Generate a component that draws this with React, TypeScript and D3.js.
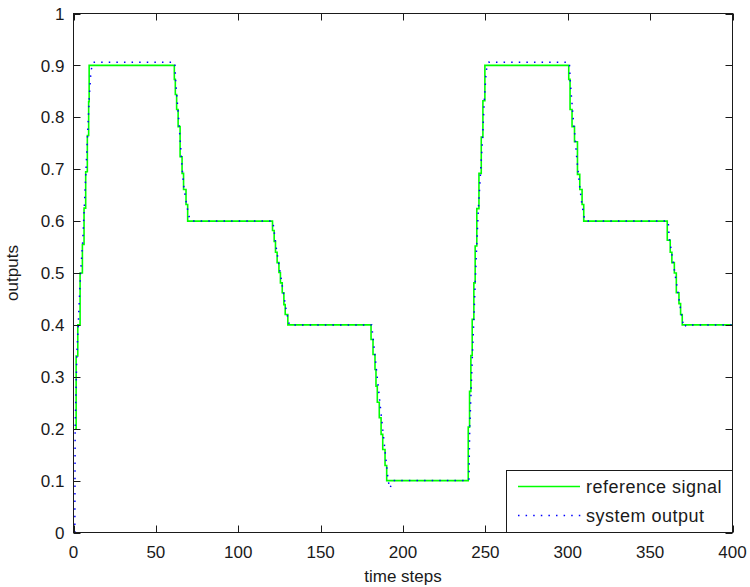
import React from "react";
import * as d3 from "d3";

const W = 750;
const H = 587;

// reference signal (step-after breakpoints: time, value)
const refT = [1, 1.6, 2.6, 4.0, 5.4, 6.4, 7.4, 8.4, 9.2, 9.5,
  61.2, 61.8, 62.6, 63.5, 64.7, 65.9, 66.8, 68.3, 69.3,
  120.8, 121.8, 122.6, 123.6, 124.7, 125.6, 126.7, 127.7, 128.5, 130.1,
  180.6, 181.8, 183.0, 183.6, 184.4, 185.6, 186.7, 187.7, 189.1, 190.1,
  239.6, 240.4, 241.2, 242.0, 243.0, 243.8, 244.8, 246.1, 247.5, 248.5, 249.7,
  300.6, 301.4, 302.6, 304.1, 305.9, 307.3, 308.7, 309.7,
  360.4, 362.2, 363.2, 364.7, 365.9, 367.5, 368.5, 369.5,
  400];
const refV = [0.2, 0.34, 0.4, 0.5, 0.555, 0.625, 0.695, 0.765, 0.83, 0.9,
  0.873, 0.844, 0.815, 0.782, 0.724, 0.692, 0.661, 0.632, 0.6,
  0.582, 0.561, 0.54, 0.52, 0.501, 0.481, 0.462, 0.439, 0.42, 0.4,
  0.372, 0.343, 0.314, 0.282, 0.251, 0.221, 0.189, 0.16, 0.129, 0.1,
  0.203, 0.272, 0.341, 0.411, 0.481, 0.552, 0.624, 0.692, 0.762, 0.832, 0.9,
  0.873, 0.815, 0.782, 0.753, 0.69, 0.661, 0.632, 0.6,
  0.563, 0.54, 0.52, 0.5, 0.462, 0.441, 0.42, 0.4,
  0.4];

// system output (time, value)
const outT = [0.8, 1.0, 2.0, 3.0, 4.3, 5.6, 6.6, 7.6, 8.6, 9.6, 10.6, 12,
  61.5, 62, 63, 64, 65, 66, 67, 68.5, 70, 71.5,
  121, 122, 123, 124, 125, 126, 127, 128, 129, 130, 131,
  181, 182, 183, 184, 185, 186, 187, 188, 189, 190, 191, 192, 194,
  240, 240.5, 241.3, 242.1, 243, 243.8, 244.7, 245.7, 247, 248.3, 249.3, 250.5, 252,
  301, 301.5, 302.5, 303.5, 304.5, 305.5, 306.5, 307.5, 308.5, 309.5, 310.5,
  361, 361.5, 362.5, 363.5, 364.5, 365.5, 366.5, 367.5, 368.5, 369.5, 370.5, 372, 400];
const outV = [0, 0.2, 0.34, 0.41, 0.5, 0.56, 0.63, 0.7, 0.77, 0.84, 0.89, 0.906,
  0.906, 0.87, 0.83, 0.79, 0.745, 0.7, 0.665, 0.635, 0.61, 0.6,
  0.6, 0.575, 0.55, 0.53, 0.51, 0.49, 0.47, 0.45, 0.43, 0.415, 0.4,
  0.4, 0.37, 0.34, 0.31, 0.28, 0.25, 0.22, 0.19, 0.16, 0.13, 0.1, 0.085, 0.1,
  0.1, 0.2, 0.27, 0.34, 0.41, 0.48, 0.55, 0.62, 0.69, 0.76, 0.83, 0.89, 0.906,
  0.906, 0.87, 0.83, 0.79, 0.76, 0.72, 0.69, 0.66, 0.635, 0.615, 0.6,
  0.6, 0.57, 0.55, 0.53, 0.51, 0.49, 0.47, 0.45, 0.43, 0.41, 0.395, 0.4, 0.4];

const xTicks = [0, 50, 100, 150, 200, 250, 300, 350, 400];
const yTicks = [0, 0.1, 0.2, 0.3, 0.4, 0.5, 0.6, 0.7, 0.8, 0.9, 1];
const legendLabels = ["reference signal", "system output"];
const xLabel = "time steps";
const yLabel = "outputs";

const L = 73.5, R = 732.5, T = 13.5, B = 532.5;
const FONT = "'Liberation Sans', Arial, sans-serif";
const FS = 17;

export default function App() {
  const x = d3.scaleLinear().domain([0, 400]).range([L, R]);
  const y = d3.scaleLinear().domain([0, 1]).range([B, T]);
  const ref = refT.map((t, i) => [t, refV[i]] as [number, number]);
  const out = outT.map((t, i) => [t, outV[i]] as [number, number]);
  const refLine = d3.line<[number, number]>().x(d => x(d[0])).y(d => y(d[1])).curve(d3.curveStepAfter);
  const outLine = d3.line<[number, number]>().x(d => x(d[0])).y(d => y(d[1]));
  const tk = 7;
  const axisColor = "#1a1a1a";
  const lgX0 = 506.5, lgY0 = 470.5;
  return (
    <svg width={W} height={H} style={{ position: "absolute", left: 0, top: 0, background: "#fff" }}>
      <rect x={0} y={0} width={W} height={H} fill="#fff" />
      <path d={refLine(ref) || ""} fill="none" stroke="#00ff00" strokeWidth={1.6} />
      <path d={outLine(out) || ""} fill="none" stroke="#0000ff" strokeWidth={1.5} strokeDasharray="1.5 6.1" />
      {/* box */}
      <rect x={L} y={T} width={R - L} height={B - T} fill="none" stroke={axisColor} strokeWidth={1} />
      {xTicks.map(v => (
        <g key={"x" + v}>
          <line x1={Math.round(x(v)) + 0.5} x2={Math.round(x(v)) + 0.5} y1={B} y2={B - tk} stroke={axisColor} />
          <line x1={Math.round(x(v)) + 0.5} x2={Math.round(x(v)) + 0.5} y1={T} y2={T + tk} stroke={axisColor} />
          <text x={x(v)} y={B + 25} textAnchor="middle" fontFamily={FONT} fontSize={FS} fill="#1a1a1a">{v}</text>
        </g>
      ))}
      {yTicks.map(v => (
        <g key={"y" + v}>
          <line x1={L} x2={L + tk} y1={Math.round(y(v)) + 0.5} y2={Math.round(y(v)) + 0.5} stroke={axisColor} />
          <line x1={R} x2={R - tk} y1={Math.round(y(v)) + 0.5} y2={Math.round(y(v)) + 0.5} stroke={axisColor} />
          <text x={L - 9} y={y(v)} dy="0.36em" textAnchor="end" fontFamily={FONT} fontSize={FS} fill="#1a1a1a">{String(v)}</text>
        </g>
      ))}
      <text x={(L + R) / 2} y={H - 5} textAnchor="middle" fontFamily={FONT} fontSize={FS} fill="#1a1a1a">{xLabel}</text>
      <text transform={`translate(18, ${(T + B) / 2}) rotate(-90)`} textAnchor="middle" fontFamily={FONT} fontSize={FS} fill="#1a1a1a">{yLabel}</text>
      {/* legend */}
      <rect x={lgX0} y={lgY0} width={R - lgX0} height={B - lgY0} fill="#fff" stroke={axisColor} />
      <line x1={518} x2={580} y1={486.5} y2={486.5} stroke="#00ff00" strokeWidth={1.6} />
      <line x1={518} x2={582} y1={515.5} y2={515.5} stroke="#0000ff" strokeWidth={1.5} strokeDasharray="1.5 6.1" />
      <text x={586} y={492.5} fontFamily={FONT} fontSize={18} letterSpacing={0.5} fill="#1a1a1a">{legendLabels[0]}</text>
      <text x={586} y={521.5} fontFamily={FONT} fontSize={18} letterSpacing={0.5} fill="#1a1a1a">{legendLabels[1]}</text>
    </svg>
  );
}
